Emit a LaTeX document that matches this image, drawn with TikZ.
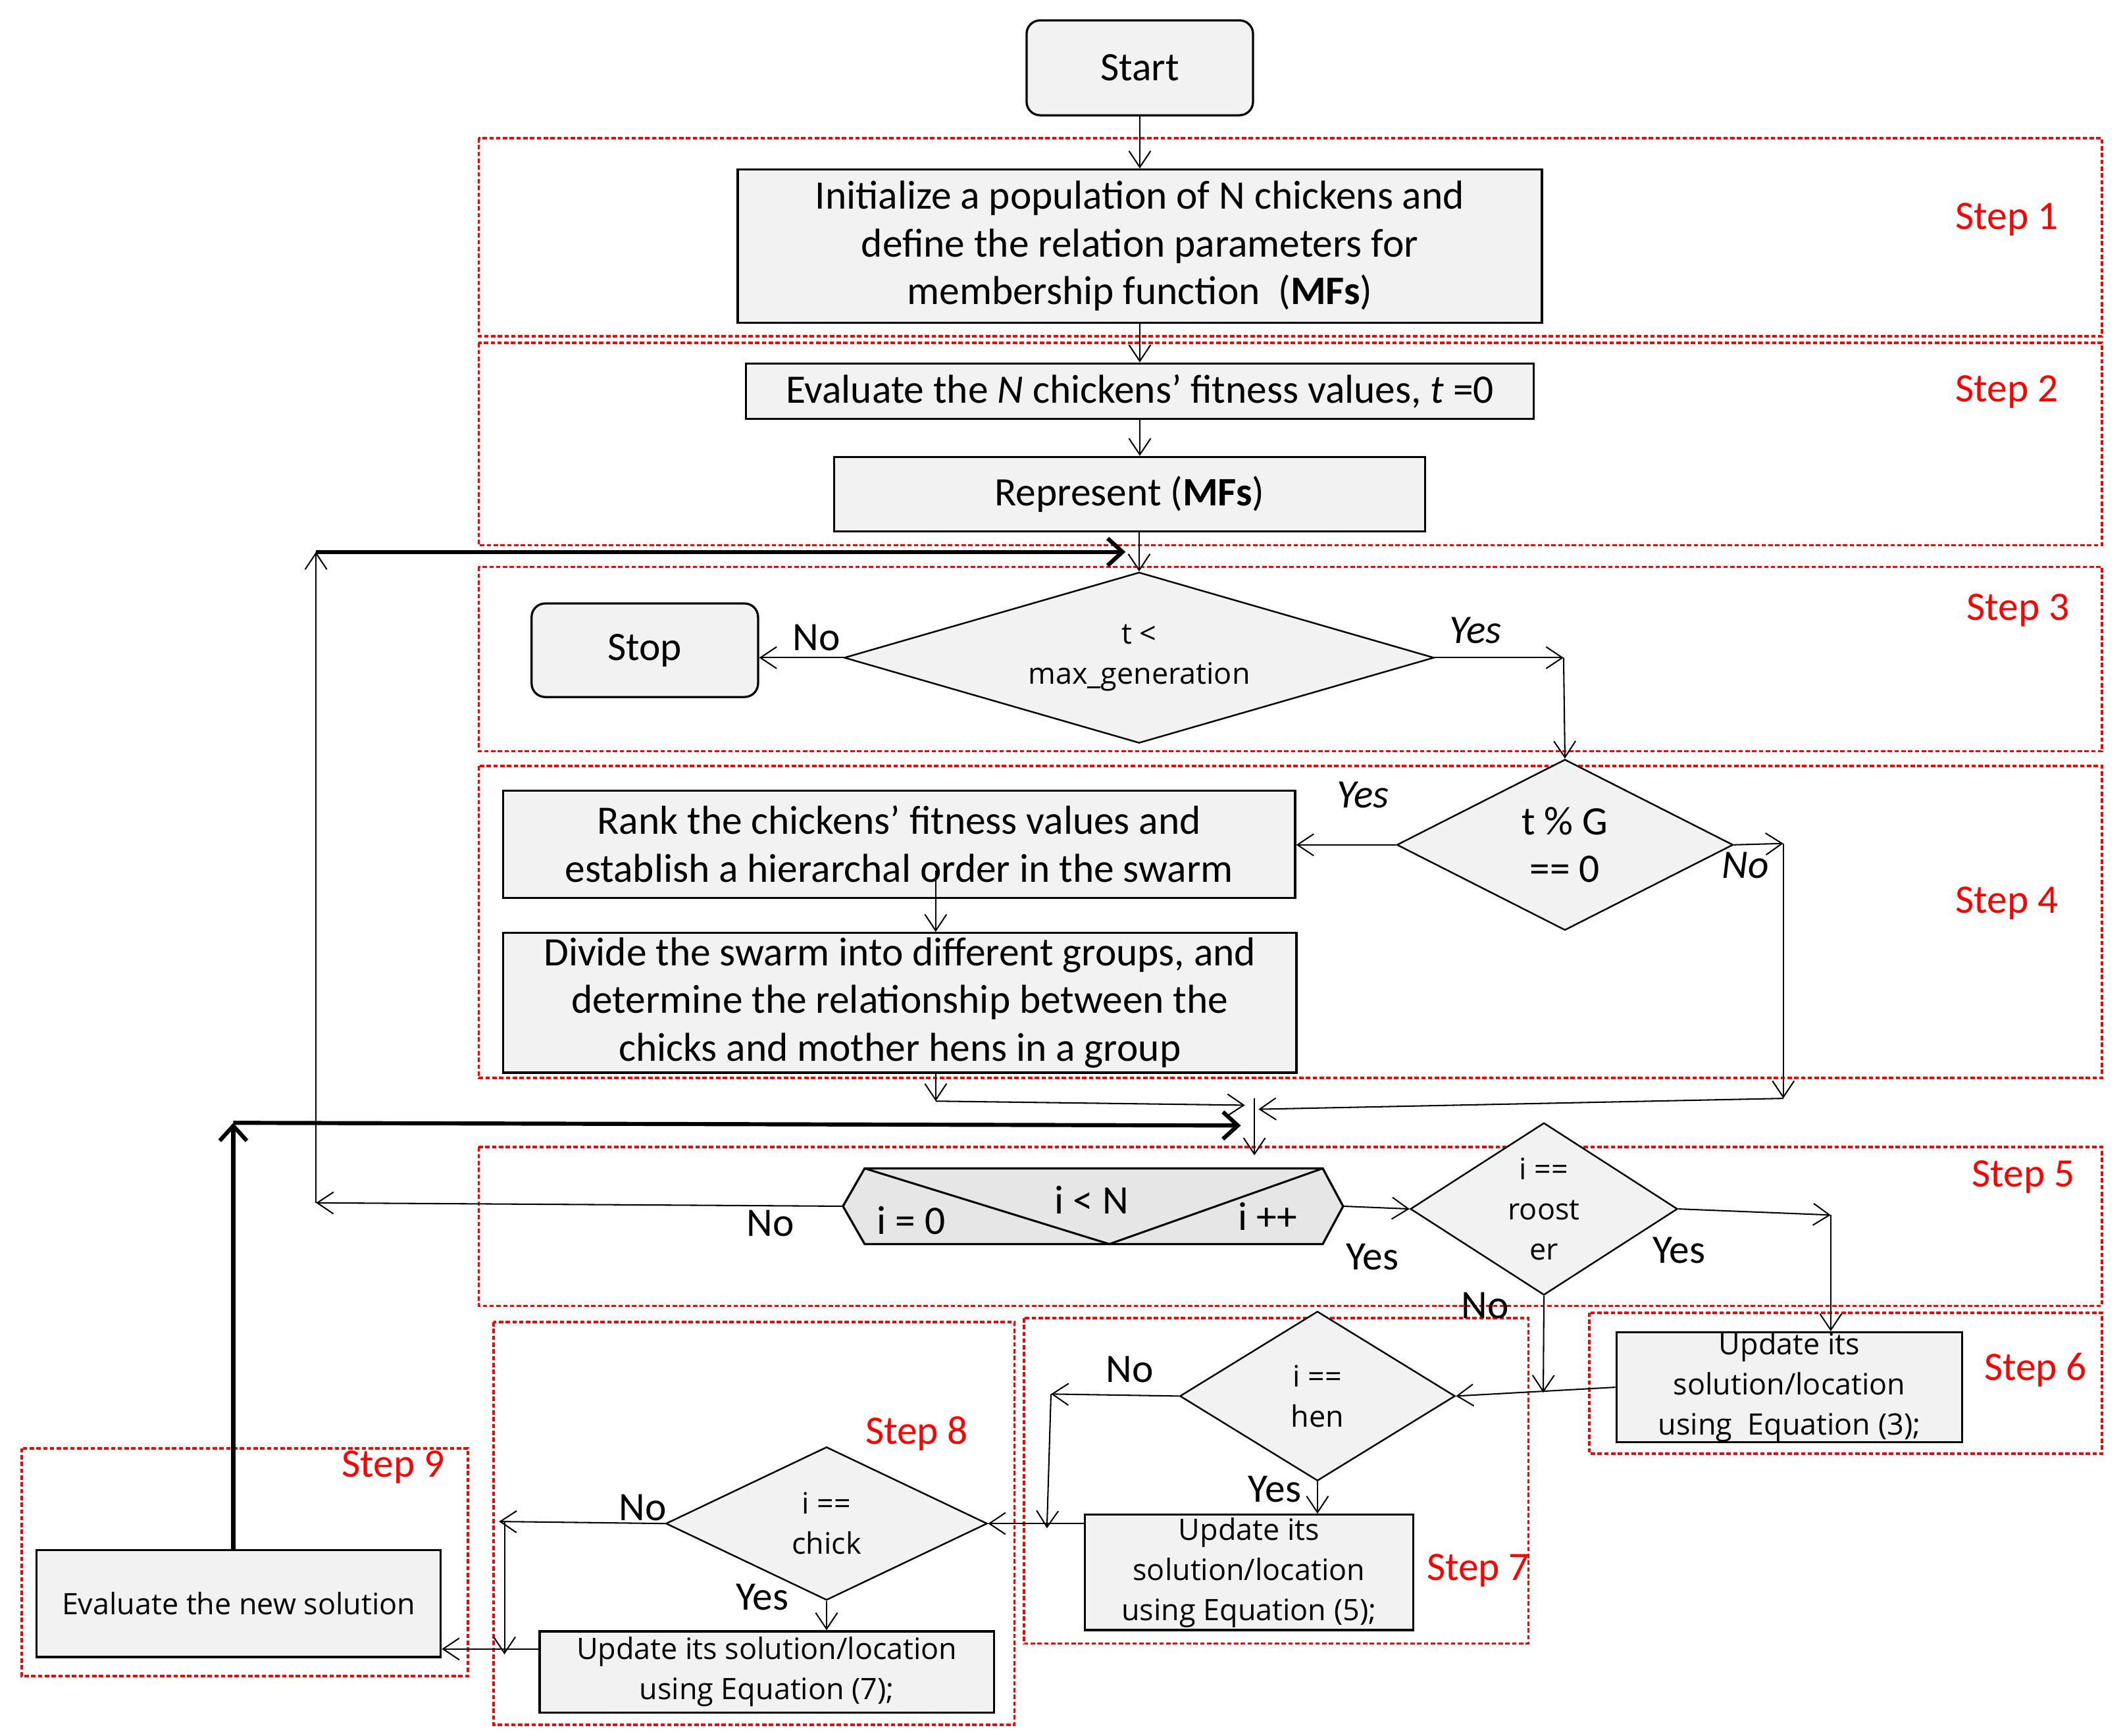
\documentclass[tikz,border=0pt]{standalone}
\usepackage{fontspec}
\setmainfont{Carlito}
\newfontfamily\smallf{Open Sans}
\usetikzlibrary{arrows.meta,shapes.geometric,calc}
\definecolor{boxgray}{HTML}{F2F2F2}
\definecolor{loopgray}{HTML}{E6E6E6}
\definecolor{stepred}{HTML}{FF0000}
\newcommand\mainf{\fontsize{14.9}{17.6}\selectfont}
\newcommand\smallfs{\smallf\fontsize{10.9}{14.8}\selectfont}
\begin{document}
\begin{tikzpicture}[x=0.5pt,y=-0.5pt,
  box/.style={draw,line width=0.8pt,fill=boxgray,inner sep=0pt,align=center,font=\mainf},
  dia/.style={diamond,draw,line width=0.6pt,fill=boxgray,inner sep=0pt,align=center},
  arr/.style={line width=0.5pt,-{Straight Barb[length=6pt,width=8pt]}},
  thk/.style={line width=1.5pt,-{Straight Barb[length=5.5pt,width=10pt]}},
  stepbox/.style={draw=stepred,line width=0.9pt,dash pattern=on 1.6pt off 0.9pt},
  steplbl/.style={text=stepred,font=\fontsize{14.9}{17}\selectfont,inner sep=0pt},
  lbl/.style={font=\mainf,inner sep=0pt}]
\useasboundingbox (0,0) rectangle (1567,1280);

% step regions
\draw[stepbox] (353,102) rectangle (1550,248);
\draw[stepbox] (353,253) rectangle (1550,402);
\draw[stepbox] (353,418) rectangle (1550,554);
\draw[stepbox] (353,565) rectangle (1550,795);
\draw[stepbox] (353,846) rectangle (1550,963);
\draw[stepbox] (1172,968) rectangle (1550,1072);
\draw[stepbox] (755,972) rectangle (1127,1212);
\draw[stepbox] (364,975) rectangle (748,1272);
\draw[stepbox] (16,1068) rectangle (345,1236);

\node[steplbl] (s1) at (1480,162) {Step 1};
\node[steplbl] (s2) at (1480,289) {Step 2};
\node[steplbl] (s3) at (1488,450) {Step 3};
\node[steplbl] (s4) at (1480,666) {Step 4};
\node[steplbl] (s5) at (1492,868) {Step 5};
\node[steplbl] (s6) at (1501,1010) {Step 6};
\node[steplbl] (s7) at (1090,1158) {Step 7};
\node[steplbl] (s8) at (676,1057) {Step 8};
\node[steplbl] (s9) at (290,1082) {Step 9};

% nodes
\node[box,rounded corners=5pt,minimum width=83.5pt,minimum height=35pt] (start) at (840.5,50) {Start};
\node[box,minimum width=296.5pt,minimum height=56.5pt] (init) at (840.5,181.5)
  {Initialize a population of N chickens and\\ define the relation parameters for\\ membership function\ \ (\textbf{MFs})};
\node[box,minimum width=290.5pt,minimum height=20.5pt] (eval) at (840.5,288.5)
  {Evaluate the \textit{N} chickens’ fitness values, \textit{t} =0};
\node[box,minimum width=218pt,minimum height=27.5pt] (repr) at (833,364.5) {Represent (\textbf{MFs})};
\node[dia,aspect=3.45,minimum width=217.5pt,minimum height=63pt,font=\smallfs] (d1) at (840,485) {t <\\max\_generation};
\node[box,rounded corners=5pt,minimum width=83.5pt,minimum height=34.5pt] (stop) at (475.5,479.5) {Stop};
\node[dia,aspect=1.97,minimum width=124pt,minimum height=63pt,font=\mainf] (d2) at (1154,623) {t \% G\\== 0};
\node[box,minimum width=292pt,minimum height=39.5pt] (rank) at (663,622.5)
  {Rank the chickens’ fitness values and\\ establish a hierarchal order in the swarm};
\node[box,minimum width=292.5pt,minimum height=51.5pt] (divide) at (663.5,739.5)
  {Divide the swarm into different groups, and\\ determine the relationship between the\\ chicks and mother hens in a group};

% loop hexagon
\node[minimum width=168.5pt,minimum height=27.5pt,inner sep=0pt] (loop) at (806.5,889.5) {};
\coordinate (loopL) at ($(loop.west)+(-16,0)$);
\coordinate (loopR) at ($(loop.east)+(15,0)$);
\draw[line width=0.8pt,fill=loopgray] (loop.north west) -- (loop.north east) -- (loopR)
  -- (loop.south east) -- (loop.south west) -- (loopL) -- cycle;
\draw[line width=0.75pt] (loop.north west) -- ($(loop.south)+(11.5,0)$) -- (loop.north east);
\node[lbl] (lc) at (805,885) {i < N};
\node[lbl] (li) at (672,900) {i = 0};
\node[lbl] (lp) at (935,897) {i ++};

\node[dia,aspect=1.55,minimum width=98.5pt,minimum height=63.5pt,font=\smallfs] (d3) at (1138.5,891.5) {i ==\\roost\\er};
\node[box,minimum width=127.5pt,minimum height=40pt,font=\smallfs] (upd3) at (1319.5,1023)
  {Update its\\solution/location\\using\ \ Equation (3);};
\node[dia,aspect=1.62,minimum width=101.5pt,minimum height=62.5pt,font=\smallfs] (d4) at (971.5,1029.5) {i ==\\hen};
\node[box,minimum width=121pt,minimum height=42.5pt,font=\smallfs] (upd5) at (921,1159.5)
  {Update its\\solution/location\\using Equation (5);};
\node[dia,aspect=2.1,minimum width=118.5pt,minimum height=56.5pt,font=\smallfs] (d5) at (609.5,1123.5) {i ==\\chick};
\node[box,minimum width=167.5pt,minimum height=30pt,font=\smallfs] (upd7) at (565.5,1233)
  {Update its solution/location\\using Equation (7);};
\node[box,minimum width=149pt,minimum height=39.5pt,font=\smallfs] (evalnew) at (176,1182.5) {Evaluate the new solution};

% helper coordinates
\coordinate (c1) at (1153,485);
\coordinate (c2) at (1315,622);
\coordinate (c3) at (1315,810);
\coordinate (c4) at (690,812);
\coordinate (c5) at (918,815);
\coordinate (c6) at (928,818);
\coordinate (c7) at (925,810);
\coordinate (c8) at (925,852);
\coordinate (c9) at (233,887);
\coordinate (c10) at (233,407);
\coordinate (c11) at (830,407);
\coordinate (c12) at (172,828);
\coordinate (c13) at (915,830);
\coordinate (c14) at (1350,896);
\coordinate (c15) at (1138,1027);
\coordinate (c16) at (775,1028);
\coordinate (c17) at (772,1127);
\coordinate (c18) at (368,1122);
\coordinate (c19) at (372,1122);
\coordinate (c20) at (372,1220);
\coordinate (c21) at (690,642);
\coordinate (c22) at (0,1216);

% connectors
\draw[arr] (start.south) -- (init.north);
\draw[arr] (init.south) -- (eval.north);
\draw[arr] (eval.south) -- (eval.south |- repr.north);
\draw[arr] (repr.south -| d1.north) -- (d1.north);
\draw[arr] (d1.west) -- (d1.west -| stop.east);
\draw[arr] (d1.east) -- (c1);
\draw[arr] (c1) -- (d2.north);
\draw[arr] (d2.west) -- (d2.west -| rank.east);
\draw[arr] (d2.east) -- (c2);
\draw[arr] (c2) -- (c3);
\draw[arr] (c21) -- (c21 |- divide.north);
\draw[arr] (divide.south -| c4) -- (c4);
\draw[arr] (c4) -- (c5);
\draw[arr] (c3) -- (c6);
\draw[arr] (c7) -- (c8);
\draw[thk] (evalnew.north -| c12) -- (c12);
\draw[thk] (c12) -- (c13);
\draw[arr] (loopL) -- (c9);
\draw[arr] (c9) -- (c10);
\draw[thk] (c10) -- (c11);
\draw[arr] (loopR) -- (d3.west);
\draw[arr] (d3.east) -- (c14);
\draw[arr] (c14) -- (c14 |- upd3.north);
\draw[arr] (d3.south) -- (c15);
\draw[arr] (upd3.west) -- (d4.east);
\draw[arr] (d4.west) -- (c16);
\draw[arr] (c16) -- (c17);
\draw[arr] (d4.south) -- (d4.south |- upd5.north);
\draw[arr] (upd5.west |- d5.east) -- (d5.east);
\draw[arr] (d5.west) -- (c18);
\draw[arr] (c19) -- (c20);
\draw[arr] (d5.south) -- (d5.south |- upd7.north);
\draw[arr] (upd7.west |- c22) -- (evalnew.east |- c22);

% branch labels
\node[lbl] (n1) at (602,470) {No};
\node[lbl] (y1) at (1088,465) {\textit{Yes}};
\node[lbl] (y2) at (1005,586) {\textit{Yes}};
\node[lbl] (n2) at (1287,638) {\textit{No}};
\node[lbl] (n3) at (568,902) {No};
\node[lbl] (y3) at (1012,927) {Yes};
\node[lbl] (y4) at (1238,922) {Yes};
\node[lbl] (n4) at (1095,963) {No};
\node[lbl] (n5) at (833,1010) {No};
\node[lbl] (y5) at (940,1098) {Yes};
\node[lbl] (n6) at (474,1112) {No};
\node[lbl] (y6) at (562,1178) {Yes};
\end{tikzpicture}
\end{document}
